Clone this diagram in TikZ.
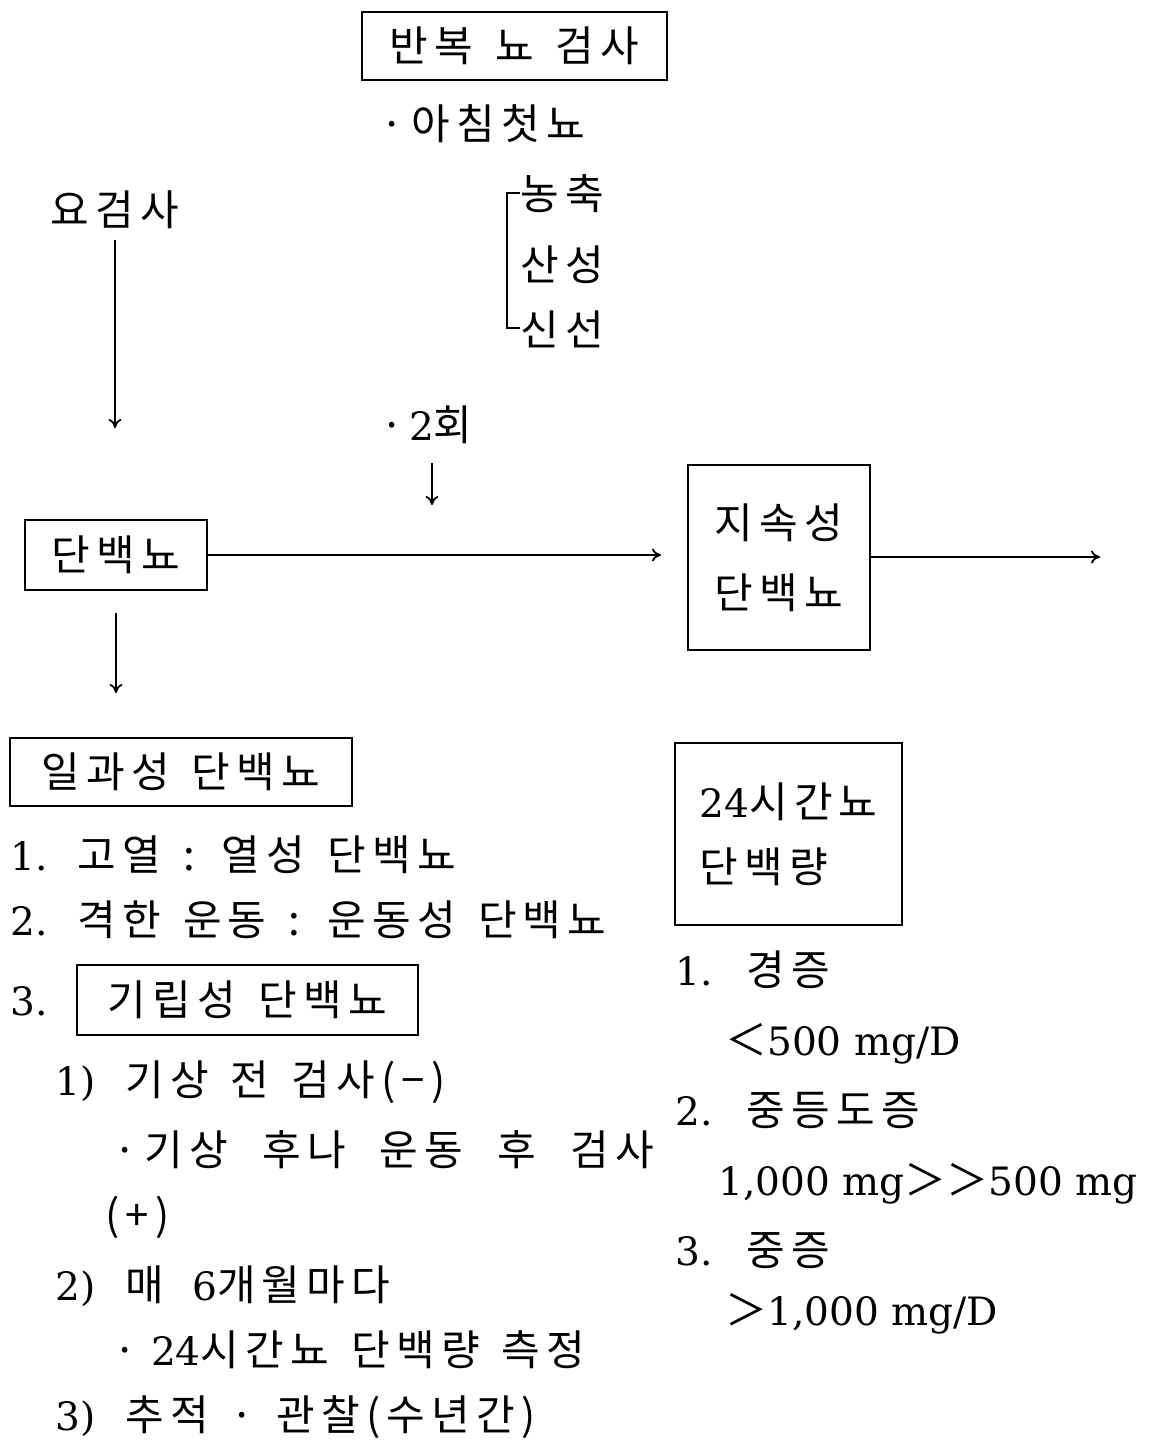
\documentclass[tikz,border=0pt]{standalone}
\usepackage{fontspec}
\usetikzlibrary{arrows.meta}
\setmainfont{DejaVu Serif}[Scale=0.93]
\newfontfamily\kr{Noto Sans CJK KR}[LetterSpace=15,WordSpace=1.4]
\newfontfamily\krn{Noto Sans CJK KR}
\newcommand\krsize{\fontsize{42}{48}\selectfont}
\begin{document}
\begin{tikzpicture}[x=1pt,y=-1pt,
    box/.style={draw,line width=2pt,inner sep=0pt,font=\krsize\kr},
    txt/.style={anchor=base west,inner sep=0pt,font=\krsize\kr},
    arr/.style={-{To[length=9pt,width=13pt]},line width=1.8pt}]
  \useasboundingbox (0,0) rectangle (1151,1450);

  % top: repeated test
  \node[box,minimum width=305pt,minimum height=68pt] (repeat) at (514.5,46) {반복 뇨 검사};
  \node[txt] (morning) at (380,140) {·\hspace{8pt}아침첫뇨};
  \node[txt] (conc)  at (520,210) {농축};
  \node[txt] (acid)  at (520,280) {산성};
  \node[txt] (fresh) at (520,345) {신선};
  \draw[line width=1.8pt] ([yshift=17pt]conc.base west) -- ++(-13,0) |- ([yshift=17pt]fresh.base west);
  \node[txt] (twice) at (380,440) {·\hspace{-1pt}\textrm{2}회};

  % left column
  \node[txt] (urine) at (50,225) {요검사};
  \node[box,minimum width=182pt,minimum height=70pt] (protein) at (116,555) {단백뇨};
  \node[box,minimum width=182pt,minimum height=185pt,align=center,
        font=\fontsize{42}{70}\selectfont\kr] (persist) at (779,557.5) {지속성\\단백뇨};

  \coordinate (urineend) at (115,428);
  \coordinate (twiceend) at (432,505);
  \coordinate (protend) at (115,693);
  \coordinate (out) at (1100,557);
  \draw[arr,shorten <=12pt] (urineend |- urine.south) -- (urineend);
  \draw[arr,shorten <=20pt] (twiceend |- twice.south) -- (twiceend);
  \draw[arr,shorten >=26pt] (protein.east) -- (protein.east -| persist.west);
  \draw[arr] (persist.east |- out) -- (out);
  \draw[arr,shorten <=22pt] (protein.south) -- (protein.south |- protend);

  % transient proteinuria
  \node[box,minimum width=342pt,minimum height=68pt] (transient) at (181,772) {일과성 단백뇨};
  \node[txt] (fever)    at (10,870) {\textrm{1.}\hspace{30pt}고열 : 열성 단백뇨};
  \node[txt] (exercise) at (10,935) {\textrm{2.}\hspace{30pt}격한 운동 : 운동성 단백뇨};
  \node[txt] (third)    at (10,1015) {\textrm{3.}};
  \node[box,minimum width=341pt,minimum height=70pt] (ortho) at (247.5,1000) {기립성 단백뇨};
  \node[txt] (sub1)  at (55,1095)  {\textrm{1)}\hspace{30pt}기상 전 검사(−)};
  \node[txt] (sub1b) at (113,1165) {·\hspace{8pt}기상\hspace{34pt}후나\hspace{34pt}운동\hspace{34pt}후\hspace{34pt}검사};
  \node[txt] (sub1c) at (105,1230) {(+)};
  \node[txt] (sub2)  at (55,1300)  {\textrm{2)}\hspace{30pt}매 \textrm{6}개월마다};
  \node[txt] (sub2b) at (113,1365) {·\hspace{8pt}\textrm{24}시간뇨 단백량 측정};
  \node[txt] (sub3)  at (55,1430)  {\textrm{3)}\hspace{30pt}추적 · 관찰(수년간)};

  % 24 hour urine
  \node[box,minimum width=227pt,minimum height=182pt,align=left,
        font=\fontsize{42}{65}\selectfont\kr] (daily) at (788.5,834) {\textrm{24}시간뇨\\단백량};
  \node[txt] (mild)        at (675,985)  {\textrm{1.}\hspace{34pt}경증};
  \node[txt] (mildval)     at (725,1055) {{\krn ＜}\textrm{500 mg/D}};
  \node[txt] (moderate)    at (675,1125) {\textrm{2.}\hspace{34pt}중등도증};
  \node[txt] (moderateval) at (718,1195) {\textrm{1,000 mg}{\krn ＞＞}\textrm{500 mg}};
  \node[txt] (severe)      at (675,1265) {\textrm{3.}\hspace{34pt}중증};
  \node[txt] (severeval)   at (725,1325) {{\krn ＞}\textrm{1,000 mg/D}};
\end{tikzpicture}
\end{document}
